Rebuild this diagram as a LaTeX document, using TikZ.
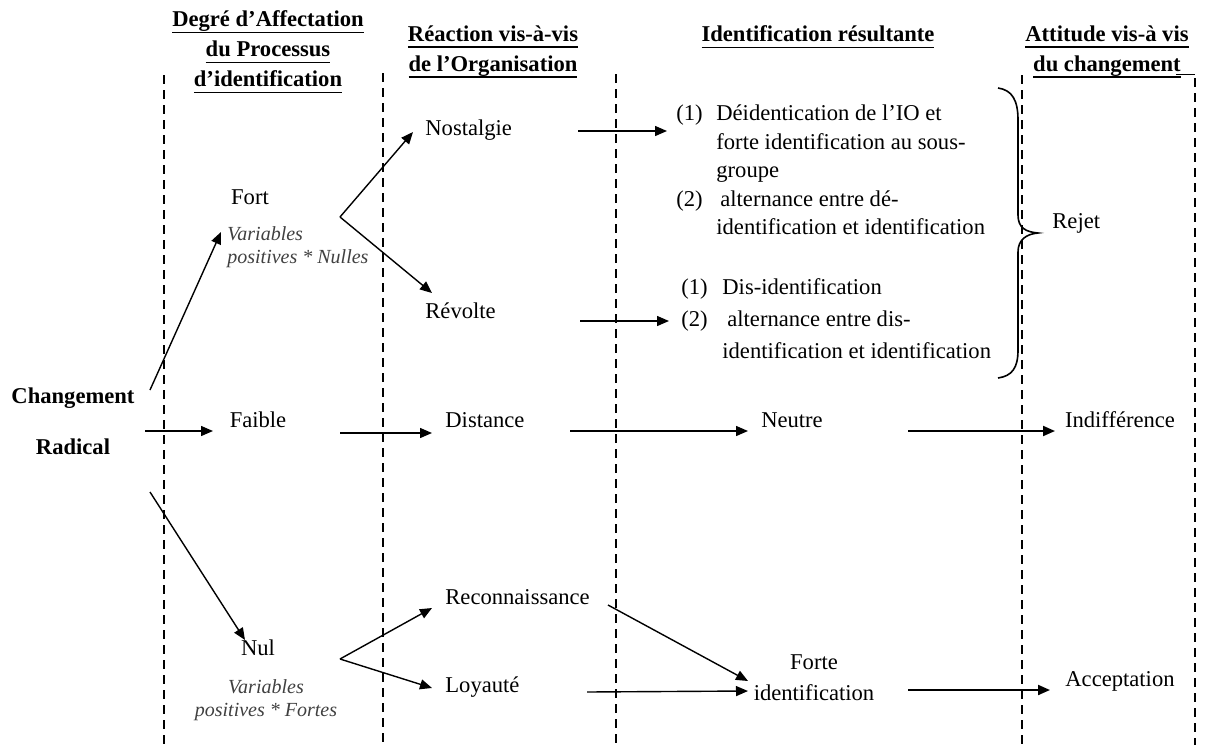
\documentclass[tikz,border=0pt]{standalone}
\usepackage{fontspec}
\setmainfont{Liberation Serif}
\usetikzlibrary{arrows.meta}
\newcommand{\hul}[1]{\setbox0\hbox{#1}\rlap{\rule[-3pt]{\wd0}{0.7pt}}\box0}
\begin{document}
\begin{tikzpicture}[x=0.5pt,y=-0.5pt,
  vline/.style={line width=0.75pt, dash pattern=on 4.5pt off 3pt},
  arr/.style={line width=0.7pt, -{Triangle[length=6pt,width=5pt]}},
  arrb/.style={arr, line width=1pt},
  txt/.style={font=\fontsize{11.3}{14}\selectfont, inner sep=0pt},
  btxt/.style={font=\fontsize{11.3}{14}\selectfont\bfseries, inner sep=0pt},
  hdr/.style={font=\fontsize{11.3}{15}\selectfont\bfseries, align=center, inner sep=0pt},
  itl/.style={font=\fontsize{10}{11.5}\selectfont\itshape, text=black!75, inner sep=0pt},
]
\useasboundingbox (0,0) rectangle (1211,745);
% dashed column separators
\foreach \x/\t in {164/75,383/73,616/74,1022/75,1195/78} \draw[vline] (\x,\t) -- (\x,745);

% headers
\node[hdr] (h1) at (268,52) {\hul{Degré d’Affectation}\\\hul{du Processus}\\\hul{d’identification}};
\node[hdr] (h2) at (493,52) {\hul{Réaction vis-à-vis}\\\hul{de l’Organisation}};
\node[hdr] (h3) at (818,37) {\hul{Identification résultante}};
\node[hdr] (h4) at (1107,52) {\hul{Attitude vis-à vis}\\\hul{du changement}};
\draw[line width=0.7pt] (1176,74.5) -- (1195,74.5);

% column 0
\node[btxt] (chg) at (73,398) {Changement};
\node[btxt] (rad) at (73,447) {Radical};

% column 1
\node[txt] (fort) at (250,197) {Fort};
\node[itl, anchor=west, align=left] (fortv) at (227,247) {Variables\\positives * Nulles};
\node[txt] (faible) at (258,420) {Faible};
\node[txt] (nul) at (258,648) {Nul};
\node[itl, align=center] (nulv) at (266,700) {Variables\\positives * Fortes};

% column 2
\node[txt, anchor=west] (nost) at (425,130) {Nostalgie};
\node[txt, anchor=west] (rev) at (425,311) {Révolte};
\node[txt, anchor=west] (dist) at (445,420) {Distance};
\node[txt, anchor=west] (reco) at (445,597) {Reconnaissance};
\node[txt, anchor=west] (loy) at (445,687) {Loyauté};

% column 3
\node[txt, anchor=west, align=left, font=\fontsize{11.3}{14.25}\selectfont] (b1) at (676,170)
  {\makebox[20pt][l]{(1)}Déidentication de l’IO et\\
   \hspace*{20pt}forte identification au sous-\\
   \hspace*{20pt}groupe\\
   \makebox[22pt][l]{(2)}alternance entre dé-\\
   \hspace*{20pt}identification et identification};
\node[txt, anchor=west, align=left, font=\fontsize{11.3}{16}\selectfont] (b2) at (681,319)
  {\makebox[20.5pt][l]{(1)}Dis-identification\\
   \makebox[23pt][l]{(2)}alternance entre dis-\\
   \hspace*{20.5pt}identification et identification};
\node[txt] (neutre) at (792,420) {Neutre};
\node[txt, align=center, font=\fontsize{11.3}{15.5}\selectfont] (forte) at (814,678) {Forte\\identification};

% brace and column 4
\draw[line width=0.8pt] (998,88) .. controls (1012,90) and (1018,100) .. (1018,120)
  -- (1018,215) .. controls (1018,228) and (1026,232) .. (1038,233)
  .. controls (1026,234) and (1018,240) .. (1018,252)
  -- (1018,350) .. controls (1018,368) and (1012,376) .. (998,378);
\node[txt, anchor=west] (rejet) at (1052,223) {Rejet};
\node[txt] (indif) at (1120,420) {Indifférence};
\node[txt] (accept) at (1120,681) {Acceptation};

% arrow end points
\coordinate (a1s) at (150,390); \coordinate (a1e) at (221,232);
\coordinate (a2s) at (145,431); \coordinate (a2e) at (213,431);
\coordinate (a3s) at (150,492); \coordinate (a3e) at (245,640);
\coordinate (v1) at (340,217); \coordinate (a4e) at (413,132); \coordinate (a5e) at (432,293);
\coordinate (a6s) at (340,433); \coordinate (a6e) at (432,433);
\coordinate (v2) at (340,659); \coordinate (a7e) at (432,608); \coordinate (a8e) at (432,688);
\coordinate (a9s) at (578,131); \coordinate (a9e) at (667,131);
\coordinate (a10s) at (580,321); \coordinate (a10e) at (669,321);
\coordinate (a11s) at (570,431); \coordinate (a11e) at (748,431);
\coordinate (a12s) at (908,431); \coordinate (a12e) at (1055,431);
\coordinate (a13s) at (608,605); \coordinate (a13e) at (748,681);
\coordinate (a14s) at (587,692); \coordinate (a14e) at (748,691);
\coordinate (a15s) at (908,690); \coordinate (a15e) at (1050,690);

\draw[arr] (a1s) -- (a1e);
\draw[arr] (a2s) -- (a2e);
\draw[arr] (a3s) -- (a3e);
\draw[arr] (v1) -- (a4e);
\draw[arr] (v1) -- (a5e);
\draw[arr] (a6s) -- (a6e);
\draw[arr] (v2) -- (a7e);
\draw[arr] (v2) -- (a8e);
\draw[arr] (a9s) -- (a9e);
\draw[arr] (a10s) -- (a10e);
\draw[arr] (a11s) -- (a11e);
\draw[arrb] (a12s) -- (a12e);
\draw[arr] (a13s) -- (a13e);
\draw[arr] (a14s) -- (a14e);
\draw[arrb] (a15s) -- (a15e);
\end{tikzpicture}
\end{document}
